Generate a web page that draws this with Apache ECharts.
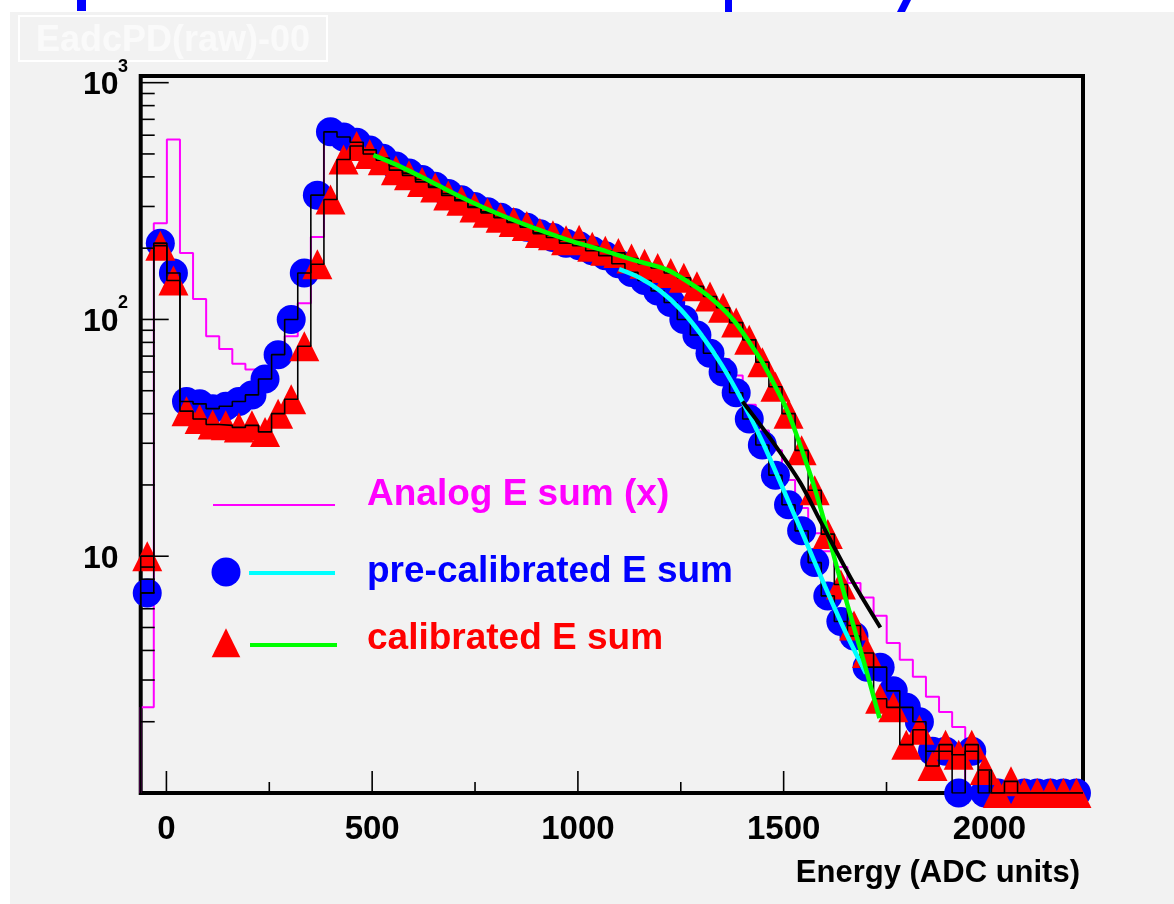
<!DOCTYPE html>
<html><head><meta charset="utf-8">
<script src="https://cdn.jsdelivr.net/npm/echarts@6/dist/echarts.min.js"></script>
<style>html,body{margin:0;padding:0;background:#fff;}#c{width:1174px;height:904px;}</style>
</head><body><div id="c"></div>
<script>
// ---- axis ranges / ticks ----
const xMin = -62.5, xMax = 2227.5, nBins = 72;
const yMin = 1, yMax = 1067;
const xMajorTicks = [0, 500, 1000, 1500, 2000];
const xMinorTicks = [250, 750, 1250, 1750];
const yMajorTicks = [10, 100, 1000];
const yMinorTicks = [2,3,4,5,6,7,8,9,20,30,40,50,60,70,80,90,200,300,400,500,600,700,800,900];
const yTickLabels = [{v:1000, main:'10', sup:'3'}, {v:100, main:'10', sup:'2'}, {v:10, main:'10', sup:''}];

// ---- histogram contents (72 bins) ----
const analogSum = [2.3,255,575,191,122,85,75,65,61.5,62,70,85,117,223,560,560,520,490,455,425,400,375,352,330,312,295,280,266,254,243,230,220,210,203,195,185,175,163,150,137,122,108,95,81,68,58,43.6,34,28,21,16,12.5,10.5,9,7.7,6.7,5.6,4.3,3.65,3.1,2.55,2.2,1.9,1,1,1,1,1,1,1,1,1];
const preCalSum = [7,210,157,45,44,42,43,45,48,56,71,100,157,335,620,590,560,520,480,445,415,390,365,340,320,300,285,270,257,245,230,222,210,205,195,186,172,158,146,132,118,100,86,72,60,49,38,29.5,22,16.5,12.8,9.4,6.8,5.3,4.6,3.4,3.4,2.7,2.3,2.0,1.5,1.5,1,1.5,1,1,1,1,1,1,1,1];
const calSum = [10,205,146,41,38,36,35.7,35,35.7,33.5,40,46,77,171,321,474,540,500,470,427,406,381,361,334,317,297,282,269,258,248,232,227,216,217,203,195,191,181,172,165,157,150,138,125,112,97,82,66,52,40,28,19,12.4,7.6,5.1,3.9,2.5,2.3,1.6,1.85,1.3,1.6,1.45,1.6,1.25,1,1.12,1,1,1,1,1];

// ---- fit curves [energy, value] ----
const preCalFit = [[1100,163],[1150,150],[1200,132],[1250,110],[1300,86],[1350,64],[1400,45],[1450,30],[1500,19],[1550,12],[1600,7.5],[1650,4.8],[1700,3.2]];
const calFit = [[503,494],[570,441],[650,376],[732,319],[813,276],[894,243],[975,217],[1056,197],[1136,178],[1217,162],[1298,133],[1338,117],[1379,99],[1419,79],[1448,66],[1480,52],[1512,40],[1543,28.5],[1575,19.5],[1607,12.5],[1639,7.8],[1671,5],[1703,3.2],[1733,2.07]];
const analogFit = [[1400,45],[1470,31],[1540,20.5],[1590,14],[1670,7.7],[1735,5]];

const FONT = '"Liberation Sans", Arial, Helvetica, sans-serif';
const binW = (xMax - xMin) / nBins;
const centers = Array.from({length: nBins}, (_, i) => xMin + (i + 0.5) * binW);
function stepData(vals) {
  const d = [[xMin, yMin]];
  vals.forEach((v, i) => d.push([xMin + i * binW, v]));
  d.push([xMax, vals[nBins - 1]]);
  return d;
}
function pts(vals) { return vals.map((v, i) => [centers[i], v]); }

const tickItems = [];
yMajorTicks.forEach(v => tickItems.push({value: [xMin, v], len: 28, dir: 'y'}));
yMinorTicks.forEach(v => tickItems.push({value: [xMin, v], len: 14, dir: 'y'}));
xMajorTicks.forEach(v => tickItems.push({value: [v, yMin], len: 22, dir: 'x'}));
xMinorTicks.forEach(v => tickItems.push({value: [v, yMin], len: 11, dir: 'x'}));

const TRI = 'path://M0,-1 L1,1 L-1,1 Z';
const chart = echarts.init(document.getElementById('c'));
const lineBase = {type: 'line', symbol: 'none', silent: true, animation: false};
chart.setOption({
  animation: false,
  backgroundColor: '#ffffff',
  grid: {left: 140.7, top: 76, width: 942.3, height: 717, show: true, borderColor: '#000', borderWidth: 4, backgroundColor: 'transparent'},
  xAxis: {type: 'value', min: xMin, max: xMax, splitNumber: 5,
    axisLine: {show: false}, axisTick: {show: false}, splitLine: {show: false},
    axisLabel: {margin: 20, color: '#000', fontSize: 33, fontWeight: 'bold', fontFamily: FONT,
      formatter: v => xMajorTicks.includes(v) ? String(v) : ''}},
  yAxis: {type: 'log', logBase: 10, min: yMin, max: yMax,
    axisLine: {show: false}, axisTick: {show: false}, splitLine: {show: false}, axisLabel: {show: false}},
  graphic: [
    {type: 'rect', z: -10, shape: {x: 10, y: 12, width: 1164, height: 892}, style: {fill: '#f2f2f2'}},
    {type: 'rect', z: 5, shape: {x: 77, y: 0, width: 9, height: 11}, style: {fill: '#0000ff'}},
    {type: 'rect', z: 5, shape: {x: 725, y: 0, width: 7, height: 12}, style: {fill: '#0000ff'}},
    {type: 'polygon', z: 5, shape: {points: [[903, 0], [911, 0], [905, 12], [897, 12]]}, style: {fill: '#0000ff'}},
    {type: 'rect', z: 5, shape: {x: 19, y: 16, width: 308, height: 45}, style: {fill: 'none', stroke: '#ffffff', lineWidth: 2}},
    {type: 'text', z: 5, style: {text: 'EadcPD(raw)-00', x: 173, y: 41, fill: '#fafafa', fontSize: 36, fontWeight: 'bold', fontFamily: FONT, align: 'center', verticalAlign: 'middle'}},
    {type: 'text', z: 5, style: {text: 'Energy (ADC units)', x: 1080, y: 873, fill: '#000', fontSize: 31, fontWeight: 'bold', fontFamily: FONT, align: 'right', verticalAlign: 'middle'}},
    // legend
    {type: 'line', z: 5, shape: {x1: 213, y1: 505, x2: 335, y2: 505}, style: {stroke: '#ff00ff', lineWidth: 2}},
    {type: 'circle', z: 5, shape: {cx: 226, cy: 572, r: 14.5}, style: {fill: '#0000ff'}},
    {type: 'line', z: 5, shape: {x1: 249, y1: 573, x2: 335, y2: 573}, style: {stroke: '#00ffff', lineWidth: 4}},
    {type: 'polygon', z: 5, shape: {points: [[211.7, 657.3], [240.3, 657.3], [226, 628.3]]}, style: {fill: '#ff0000'}},
    {type: 'line', z: 5, shape: {x1: 250, y1: 645, x2: 337, y2: 645}, style: {stroke: '#00ff00', lineWidth: 4}},
    {type: 'text', z: 5, style: {text: 'Analog E sum (x)', x: 367, y: 495, fill: '#ff00ff', fontSize: 37, fontWeight: 'bold', fontFamily: FONT, align: 'left', verticalAlign: 'middle'}},
    {type: 'text', z: 5, style: {text: 'pre-calibrated E sum', x: 367, y: 572, fill: '#0000ff', fontSize: 37, fontWeight: 'bold', fontFamily: FONT, align: 'left', verticalAlign: 'middle'}},
    {type: 'text', z: 5, style: {text: 'calibrated E sum', x: 367, y: 639, fill: '#ff0000', fontSize: 37, fontWeight: 'bold', fontFamily: FONT, align: 'left', verticalAlign: 'middle'}}
  ],
  series: [
    Object.assign({}, lineBase, {name: 'Analog E sum (x)', step: 'end', z: 2, data: stepData(analogSum), lineStyle: {color: '#ff00ff', width: 2}}),
    {type: 'scatter', name: 'pre-calibrated E sum', z: 3, clip: false, silent: true, symbol: 'circle', symbolSize: 29, itemStyle: {color: '#0000ff', opacity: 1}, data: pts(preCalSum)},
    {type: 'scatter', name: 'calibrated E sum', z: 4, clip: false, silent: true, symbol: TRI, symbolKeepAspect: false, symbolSize: [30, 30], itemStyle: {color: '#ff0000', opacity: 1}, data: pts(calSum)},
    Object.assign({}, lineBase, {step: 'end', z: 5, data: stepData(preCalSum), lineStyle: {color: '#000', width: 1.6}}),
    Object.assign({}, lineBase, {step: 'end', z: 5, data: stepData(calSum), lineStyle: {color: '#000', width: 1.6}}),
    Object.assign({}, lineBase, {z: 6, smooth: 0.3, data: preCalFit, lineStyle: {color: '#00ffff', width: 4.5}}),
    Object.assign({}, lineBase, {z: 6, smooth: 0.3, data: calFit, lineStyle: {color: '#00ff00', width: 4.5}}),
    Object.assign({}, lineBase, {z: 7, smooth: 0.3, data: analogFit, lineStyle: {color: '#000', width: 4}}),
    {type: 'custom', z: 8, silent: true, clip: false, data: tickItems.map(t => t.value),
      renderItem: (params, api) => {
        const t = tickItems[params.dataIndex];
        const p = api.coord(t.value);
        if (t.dir === 'y') return {type: 'line', shape: {x1: p[0], y1: p[1], x2: p[0] + t.len, y2: p[1]}, style: {stroke: '#000', lineWidth: 1.6}};
        return {type: 'line', shape: {x1: p[0], y1: p[1], x2: p[0], y2: p[1] - t.len}, style: {stroke: '#000', lineWidth: 1.6}};
      }},
    {type: 'custom', z: 8, silent: true, clip: false, data: yTickLabels.map(t => [xMin, t.v]),
      renderItem: (params, api) => {
        const t = yTickLabels[params.dataIndex];
        const p = api.coord([xMin, t.v]);
        const ch = [{type: 'text', style: {text: t.main, x: 83, y: p[1] + 3, fill: '#000', fontSize: 32, fontWeight: 'bold', fontFamily: FONT, align: 'left', verticalAlign: 'middle'}}];
        if (t.sup) ch.push({type: 'text', style: {text: t.sup, x: 118, y: p[1] - 16, fill: '#000', fontSize: 18, fontWeight: 'bold', fontFamily: FONT, align: 'left', verticalAlign: 'middle'}});
        return {type: 'group', children: ch};
      }}
  ]
});
</script></body></html>
